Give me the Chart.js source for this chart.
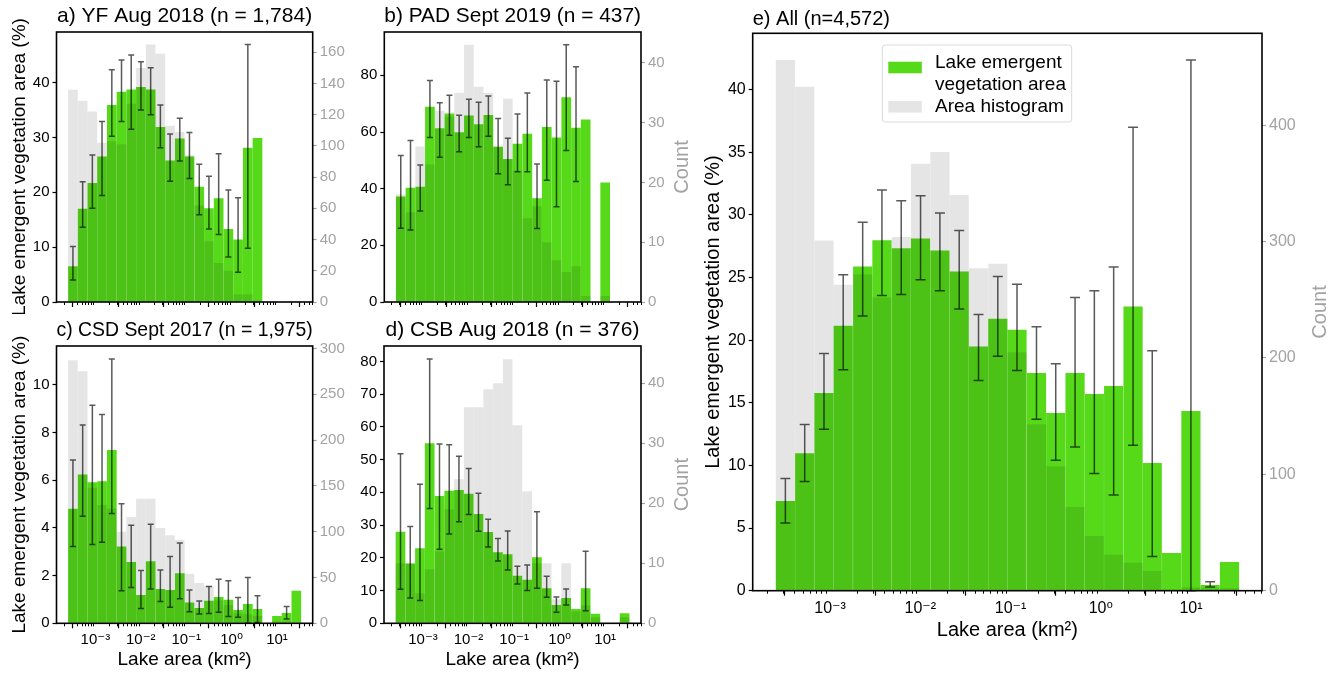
<!DOCTYPE html>
<html><head><meta charset="utf-8">
<script src="https://cdn.jsdelivr.net/npm/chart.js@4.4.1/dist/chart.umd.min.js"></script>
<style>
html,body{margin:0;padding:0;background:#fff;width:1329px;height:673px;overflow:hidden;position:relative;}
canvas{position:absolute;}
</style></head><body>
<canvas id="pa"></canvas><canvas id="pb"></canvas><canvas id="pc"></canvas><canvas id="pd"></canvas><canvas id="pe"></canvas>
<script>
// ---- data: lake area bins (km², geometric bin centres) ----
const binCenters = [3.20e-4,5.24e-4,8.57e-4,1.40e-3,2.30e-3,3.76e-3,6.15e-3,1.007e-2,1.65e-2,2.70e-2,4.42e-2,7.23e-2,0.118,0.194,0.317,0.519,0.849,1.39,2.28,3.72,6.10,9.98,16.3,26.7];
const xTickValues = [1e-3,1e-2,1e-1,1,10];
const xRange = [1.39e-4, 61.2];

// a) YF Aug 2018
const aVeg = [6.5,17.0,21.7,26.5,35.9,38.3,38.7,39.2,38.7,31.9,25.8,29.8,26.5,21.0,17.1,18.9,13.3,11.4,28.1,29.9,null,null,null,null];
const aLo  = [4.0,13.6,17.1,19.4,30.2,32.9,31.5,35.0,34.1,28.1,22.0,25.7,22.5,15.9,13.3,12.3,8.2,5.4,9.8,null,null,null,null,null];
const aHi  = [10.1,21.9,26.8,32.9,42.3,44.1,45.0,43.8,42.7,35.9,30.6,33.5,30.9,25.1,22.9,27.0,20.4,19.0,46.9,null,null,null,null,null];
const aCount = [136,129,122,102,103,101,127,150,165,159,113,109,94,62,39,25,20,5,5,1,0,0,0,0];
// b) PAD Sept 2019
const bVeg = [37.2,40.3,40.7,68.9,61.3,66.5,59.9,65.8,62.7,66.0,54.8,50.5,55.9,59.4,36.6,61.8,58.1,72.3,61.5,64.4,null,42.2,null,null];
const bLo  = [26.0,25.4,32.1,58.1,51.1,58.9,53.0,58.1,54.8,58.5,45.3,41.4,46.0,46.0,25.9,43.0,33.6,53.5,42.5,null,null,null,null,null];
const bHi  = [51.7,57.0,48.4,78.2,70.3,73.0,65.9,71.6,70.5,72.7,64.8,57.8,66.4,73.8,48.7,78.4,77.9,90.8,83.0,null,null,null,null,null];
const bCount = [18,15,26,23,32,31,35,43,36,35,26,34,22,14,16,10,7,5,6,1,0,1,0,0];
// c) CSD Sept 2017
const cVeg = [4.80,6.24,5.92,5.96,7.27,3.22,2.57,1.19,2.60,1.44,1.40,2.10,0.87,0.64,0.95,1.10,0.99,0.56,0.81,0.60,null,0.31,0.43,1.36];
const cLo  = [3.22,4.49,3.30,3.40,4.60,1.37,1.50,0.62,1.44,0.91,0.67,1.03,0.48,0.39,0.41,0.46,0.29,0.25,0.0,0.03,null,null,0.18,null];
const cHi  = [6.85,8.32,9.15,8.76,11.08,5.01,4.11,2.21,4.15,2.24,2.80,3.37,1.40,0.94,1.54,1.85,1.78,1.08,1.92,1.16,null,null,0.70,null];
const cCount = [287,275,148,129,125,100,116,136,136,104,96,91,54,44,41,25,20,11,10,8,0,2,2,1];
// d) CSB Aug 2018
const dVeg = [28.0,18.3,22.9,55.0,38.9,40.5,40.7,39.6,33.4,27.9,21.7,21.1,14.5,13.3,20.2,10.7,5.6,7.7,4.4,10.7,2.9,null,null,3.1];
const dLo  = [10.4,7.7,7.0,35.1,22.6,27.3,31.0,33.2,28.1,23.3,19.0,16.3,12.0,10.0,10.7,7.95,3.36,5.6,null,3.8,null,null,null,null];
const dHi  = [51.8,29.6,42.5,80.7,54.8,54.5,51.0,47.3,39.7,31.8,25.9,28.2,17.4,17.8,34.1,14.4,8.05,10.5,null,22.0,null,null,null,null];
const dCount = [10,10,5,9,12,19,24,36,36,39,40,44,33,22,10,10,4,10,2,3,1,0,0,1];
// e) All
const eVeg = [7.16,10.97,15.79,21.15,25.89,27.98,27.34,28.11,27.15,25.49,19.49,21.71,20.83,17.39,14.19,17.39,15.71,16.35,22.68,10.2,3.01,14.35,0.45,2.29];
const eLo  = [5.41,8.71,12.89,17.63,21.93,23.56,23.64,24.82,23.94,22.49,16.78,18.72,17.58,13.69,10.41,11.48,9.35,7.64,11.61,2.74,null,0.0,0.29,null];
const eHi  = [8.95,13.26,18.93,25.22,29.42,31.99,31.14,31.54,30.15,28.75,22.06,25.09,24.47,21.07,18.11,23.40,23.94,25.84,37.0,19.15,null,42.36,0.72,null];
const eCount = [456,433,301,263,272,252,304,367,377,340,277,281,205,143,107,72,47,31,24,17,1,3,2,2];

const titles = ['a) YF Aug 2018 (n = 1,784)','b) PAD Sept 2019 (n = 437)','c) CSD Sept 2017 (n = 1,975)','d) CSB Aug 2018 (n = 376)','e) All (n=4,572)'];
const yTitle = 'Lake emergent vegetation area (%)';
const xTitle = 'Lake area (km²)';
const countTitle = 'Count';
const legendLabels = [['Lake emergent','vegetation area'],['Area histogram']];

// ---- styling ----
const FONT = "'Liberation Sans', Arial, 'DejaVu Sans', sans-serif";
const GREEN = 'rgb(86,217,25)';
const HIST = 'rgba(0,0,0,0.1)';
const ERR = 'rgba(0,0,0,0.65)';
const RGREY = '#a3a3a3';
Chart.defaults.font.family = FONT;
Chart.defaults.color = '#000';

function supLabel(v){
  const e = Math.round(Math.log10(v));
  const m = {'-':'\u207B','0':'\u2070','1':'\u00B9','2':'\u00B2','3':'\u00B3','4':'\u2074'};
  return '10' + String(e).split('').map(c=>m[c]).join('');
}

const extraPlugin = {
  id: 'extra',
  afterDatasetsDraw(chart, args, opts){
    const ctx = chart.ctx, xs = chart.scales.x, ys = chart.scales.y;
    const ds = chart.data.datasets[1];
    ctx.save();
    ctx.strokeStyle = ERR; ctx.lineWidth = opts.errWidth;
    for (let i = 0; i < binCenters.length; i++){
      const lo = ds.errLo[i], hi = ds.errHi[i];
      if (lo == null || hi == null) continue;
      const x = xs.getPixelForValue(binCenters[i]);
      const y1 = ys.getPixelForValue(lo), y2 = ys.getPixelForValue(hi);
      ctx.beginPath();
      ctx.moveTo(x, y1); ctx.lineTo(x, y2);
      ctx.moveTo(x-opts.cap, y1); ctx.lineTo(x+opts.cap, y1);
      ctx.moveTo(x-opts.cap, y2); ctx.lineTo(x+opts.cap, y2);
      ctx.stroke();
    }
    ctx.restore();
  },
  afterDraw(chart, args, opts){
    const ctx = chart.ctx, a = chart.chartArea, xs = chart.scales.x;
    ctx.save();
    // minor log ticks
    ctx.strokeStyle = '#000'; ctx.lineWidth = 1;
    ctx.beginPath();
    for (let e = -5; e <= 2; e++){
      for (let m = 2; m <= 9; m++){
        const v = m * Math.pow(10, e);
        if (v < xs.min || v > xs.max) continue;
        const x = Math.round(xs.getPixelForValue(v)) + 0.5;
        ctx.moveTo(x, a.bottom); ctx.lineTo(x, a.bottom + 3);
      }
    }
    ctx.stroke();
    // frame
    ctx.lineWidth = 1.6; ctx.strokeStyle = '#000';
    ctx.strokeRect(a.left, a.top, a.right - a.left, a.bottom - a.top);
    // right axis title (reads bottom-to-top)
    if (opts.countTitle){
      ctx.save();
      ctx.translate(chart.scales.y2.right - opts.countOffset, (a.top + a.bottom) / 2);
      ctx.rotate(-Math.PI / 2);
      ctx.fillStyle = RGREY; ctx.font = opts.countSize + 'px ' + FONT;
      ctx.textAlign = 'center'; ctx.textBaseline = 'middle';
      ctx.fillText(opts.countTitle, 0, 0);
      ctx.restore();
    }
    // legend
    if (opts.legend){
      const L = a.left + 129.6, T = a.top + 11.7, W = 189.4, H = 77;
      ctx.fillStyle = 'rgba(255,255,255,0.85)';
      ctx.strokeStyle = '#d9d9d9'; ctx.lineWidth = 1;
      ctx.beginPath();
      if (ctx.roundRect) ctx.roundRect(L, T, W, H, 3); else ctx.rect(L, T, W, H);
      ctx.fill(); ctx.stroke();
      ctx.fillStyle = GREEN; ctx.fillRect(L + 6, T + 16.7, 33.5, 11.6);
      ctx.fillStyle = 'rgba(0,0,0,0.1)'; ctx.fillRect(L + 6, T + 56, 33.5, 11.6);
      ctx.fillStyle = '#000'; ctx.font = '19px ' + FONT;
      ctx.textAlign = 'left'; ctx.textBaseline = 'middle';
      ctx.fillText(legendLabels[0][0], L + 52.7, T + 17.6);
      ctx.fillText(legendLabels[0][1], L + 52.7, T + 39.6);
      ctx.fillText(legendLabels[1][0], L + 52.7, T + 62);
    }
    ctx.restore();
  }
};

function makePanel(id, g, p){
  const cv = document.getElementById(id);
  cv.width = g.w; cv.height = g.h;
  cv.style.left = g.left + 'px'; cv.style.top = g.top + 'px';
  cv.style.width = g.w + 'px'; cv.style.height = g.h + 'px';
  const tickF = p.tickSize;
  new Chart(cv, {
    type: 'bar',
    data: {
      datasets: [
        { label: 'Area histogram', yAxisID: 'y2', data: binCenters.map((x,i)=>({x, y: p.count[i]})),
          backgroundColor: HIST, borderWidth: 0, grouped: false, barPercentage: 1, categoryPercentage: 1, inflateAmount: 0 },
        { label: 'Lake emergent vegetation area', yAxisID: 'y', data: binCenters.map((x,i)=>({x, y: p.veg[i]})),
          backgroundColor: GREEN, borderWidth: 0, grouped: false, barPercentage: 1, categoryPercentage: 1, inflateAmount: 0,
          errLo: p.lo, errHi: p.hi }
      ]
    },
    options: {
      responsive: false, animation: false, events: [],
      layout: { padding: 0 },
      plugins: {
        legend: { display: false }, tooltip: { enabled: false },
        title: { display: true, text: p.title, fullSize: false, align: p.titleAlign,
          font: { size: p.titleSize, weight: 'normal', lineHeight: 1.2 }, color: '#000',
          padding: { top: g.T - p.titleSize*1.2 - p.titleGap, bottom: p.titleGap } },
        extra: { errWidth: 1.5, cap: p.cap, countTitle: p.showCount ? countTitle : null, countOffset: p.countOffset, countSize: 20, legend: p.legend }
      },
      scales: {
        x: {
          type: 'logarithmic', min: xRange[0], max: xRange[1],
          afterBuildTicks: (s) => { s.ticks = xTickValues.map(v => ({value: v, major: true})); },
          afterFit: (s) => { s.height = g.B; },
          grid: { display: true, drawOnChartArea: false, drawTicks: true, tickLength: 5, color: '#000', tickColor: '#000', tickWidth: 1.2 },
          border: { display: false },
          ticks: { display: p.showX, autoSkip: false, maxRotation: 0, padding: p.xTickPad, font: { size: tickF }, color: '#000',
            callback: (v) => supLabel(v) },
          title: { display: p.showX, text: xTitle, font: { size: p.axisSize }, color: '#000', padding: { top: 0, bottom: p.xTitlePad } }
        },
        y: {
          type: 'linear', position: 'left', min: 0, max: p.yMax,
          afterFit: (s) => { s.width = g.L; },
          grid: { display: true, drawOnChartArea: false, drawTicks: true, tickLength: 4, color: '#000', tickColor: '#000', tickWidth: 1.2 },
          border: { display: false },
          ticks: { stepSize: p.yStep, includeBounds: false, padding: 3, font: { size: tickF }, color: '#000' },
          title: { display: p.showY, text: yTitle, font: { size: p.axisSize }, color: '#000', padding: { top: p.yTitlePad, bottom: 0 } }
        },
        y2: {
          type: 'linear', position: 'right', min: 0, max: p.y2Max,
          afterFit: (s) => { s.width = g.R; },
          grid: { display: true, drawOnChartArea: false, drawTicks: true, tickLength: 4, color: RGREY, tickColor: RGREY, tickWidth: 1.2 },
          border: { display: false },
          ticks: { stepSize: p.y2Step, includeBounds: false, padding: 3, font: { size: tickF }, color: RGREY }
        }
      }
    },
    plugins: [extraPlugin]
  });
}

const common = { titleSize: 21, titleGap: 3.4, titleAlign: 'center', tickSize: 15, axisSize: 19, cap: 3, xTickPad: 3, xTitlePad: 1.6, yTitlePad: 8, countOffset: 12, legend: false };

makePanel('pa', {left:0, top:0, w:350, h:314, L:56.5, R:37.3, T:32, B:5.5},
  Object.assign({}, common, { title: titles[0], veg: aVeg, lo: aLo, hi: aHi, count: aCount, yMax: 49.2, yStep: 10, y2Max: 173, y2Step: 20, showX: false, showY: true, showCount: false }));
makePanel('pb', {left:344, top:0, w:350, h:314, L:40.3, R:53, T:32, B:5.5},
  Object.assign({}, common, { title: titles[1], veg: bVeg, lo: bLo, hi: bHi, count: bCount, yMax: 95.3, yStep: 20, y2Max: 45.15, y2Step: 10, showX: false, showY: false, showCount: true }));
makePanel('pc', {left:0, top:314, w:350, h:359, L:56.5, R:37.3, T:32, B:49.7},
  Object.assign({}, common, { title: titles[2], veg: cVeg, lo: cLo, hi: cHi, count: cCount, yMax: 11.63, yStep: 2, y2Max: 302.6, y2Step: 50, showX: true, showY: true, showCount: false }));
makePanel('pd', {left:344, top:314, w:350, h:359, L:40, R:53, T:32, B:49.7},
  Object.assign({}, common, { title: titles[3], veg: dVeg, lo: dLo, hi: dHi, count: dCount, yMax: 84.7, yStep: 10, y2Max: 46.2, y2Step: 10, showX: true, showY: false, showCount: true }));
makePanel('pe', {left:694, top:0, w:635, h:673, L:58.7, R:67, T:33.3, B:82.3},
  Object.assign({}, common, { title: titles[4], titleSize: 20, titleGap: 2, titleAlign: 'start', tickSize: 16, axisSize: 20, cap: 5, xTitlePad: 31, yTitlePad: 7, countOffset: 9,
    veg: eVeg, lo: eLo, hi: eHi, count: eCount, yMax: 44.5, yStep: 5, y2Max: 479, y2Step: 100, showX: true, showY: true, showCount: true, legend: true }));
</script>
</body></html>
